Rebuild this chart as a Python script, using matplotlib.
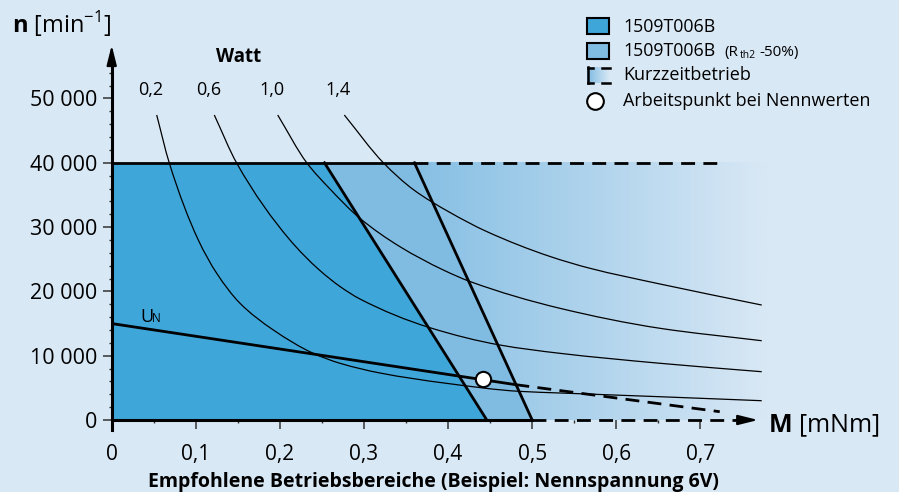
import numpy as np
import matplotlib
matplotlib.use('Agg')
import matplotlib.pyplot as plt
from matplotlib.colors import LinearSegmentedColormap
from matplotlib.patches import Rectangle, PathPatch
from matplotlib.path import Path

plt.rcParams['font.family'] = ['Open Sans', 'DejaVu Sans']
plt.rcParams['mathtext.fontset'] = 'custom'
plt.rcParams['mathtext.rm'] = 'Open Sans'
plt.rcParams['mathtext.bf'] = 'Open Sans:bold'

BG = '#d9e8f5'
DARK = '#3ea6d9'
LIGHT = '#80bbe2'
FADE_START = '#86bfe4'

# operating ranges, torque in mNm, speed in min^-1
dark_m = [0, 0, 0.253, 0.446]
dark_n = [0, 40000, 40000, 0]
light_m = [0.253, 0.36, 0.5, 0.446]
light_n = [40000, 40000, 0, 0]
n_limit = 40000
m_limit_short = 0.724

# nominal voltage characteristic
un_m = [0, 0.48]
un_n = [15000, 5500]
un_dash_m = [0.48, 0.723]
un_dash_n = [5500, 1290]

# working point at nominal values
wp_m = 0.441
wp_n = 6380

# power curves (Watt)
p02_m = [0.0535, 0.0685, 0.103, 0.1249, 0.1526, 0.1922, 0.2397, 0.2715, 0.319, 0.3983, 0.4855, 0.533, 0.652, 0.7729]
p02_n = [47430, 39960, 27990, 22810, 18150, 14000, 10370, 8820, 7310, 5700, 4450, 4200, 3620, 3000]
p06_m = [0.122, 0.1486, 0.212, 0.2469, 0.2715, 0.2952, 0.3785, 0.4617, 0.533, 0.652, 0.7729]
p06_n = [47430, 39960, 27990, 23330, 20760, 18820, 14350, 11660, 10370, 8820, 7510]
p10_m = [0.1974, 0.2319, 0.2596, 0.2952, 0.3428, 0.3943, 0.426, 0.533, 0.652, 0.7729]
p10_n = [47430, 40010, 35920, 31360, 26950, 23330, 21540, 17370, 14260, 12330]
p14_m = [0.2766, 0.323, 0.3586, 0.4023, 0.4459, 0.5212, 0.5688, 0.652, 0.7729]
p14_n = [47430, 40010, 35840, 32270, 29310, 25430, 23590, 21150, 17880]
watt_labels = ['0,2', '0,6', '1,0', '1,4']

y_ticks = [0, 10000, 20000, 30000, 40000, 50000]
y_labels = ['0', '10 000', '20 000', '30 000', '40 000', '50 000']
x_ticks = [0, 0.1, 0.2, 0.3, 0.4, 0.5, 0.6, 0.7]
x_labels = ['0', '0,1', '0,2', '0,3', '0,4', '0,5', '0,6', '0,7']


def smooth_path(xs, ys):
    # smooth, shape preserving curve through the read points (Hermite as Bezier)
    x = np.asarray(xs, float)
    y = np.asarray(ys, float)
    h = np.diff(x)
    d = np.diff(y) / h
    t = np.empty_like(x)
    t[0], t[-1] = d[0], d[-1]
    for i in range(1, len(x) - 1):
        if d[i - 1] * d[i] <= 0:
            t[i] = 0
        else:
            w1 = 2 * h[i] + h[i - 1]
            w2 = h[i] + 2 * h[i - 1]
            t[i] = (w1 + w2) / (w1 / d[i - 1] + w2 / d[i])
    verts = [(x[0], y[0])]
    codes = [Path.MOVETO]
    for i in range(len(x) - 1):
        verts += [(x[i] + h[i] / 3, y[i] + t[i] * h[i] / 3),
                  (x[i + 1] - h[i] / 3, y[i + 1] - t[i + 1] * h[i] / 3),
                  (x[i + 1], y[i + 1])]
        codes += [Path.CURVE4] * 3
    return Path(verts, codes)


W, H = 899, 492
fig = plt.figure(figsize=(W / 100, H / 100), dpi=100)
fig.patch.set_facecolor(BG)

# axes placed so that 0/0 sits at pixel (111.7, 420)
x0, y0 = 111.7, 420
xmax, ymax = 0.78, 58500
px_per_m = 841
px_per_n = 0.00643
ax = fig.add_axes([x0 / W, (H - y0) / H, xmax * px_per_m / W, ymax * px_per_n / H])
ax.set_facecolor(BG)

# fading short-time area
fade = LinearSegmentedColormap.from_list('fade', [FADE_START, BG])
ax.imshow(np.linspace(0, 1, 256).reshape(1, -1), extent=[0.36, xmax, 0, n_limit],
          aspect='auto', cmap=fade, zorder=0, interpolation='bilinear')

ax.fill(light_m, light_n, color=LIGHT, lw=0, zorder=1)
ax.fill(dark_m, dark_n, color=DARK, lw=0, zorder=1)

for m, n in [(p02_m, p02_n), (p06_m, p06_n), (p10_m, p10_n), (p14_m, p14_n)]:
    ax.add_patch(PathPatch(smooth_path(m, n), facecolor='none', edgecolor='black',
                           lw=0.9, zorder=3, clip_on=False))

for lab, m, n in zip(watt_labels, [p02_m, p06_m, p10_m, p14_m], [p02_n, p06_n, p10_n, p14_n]):
    ax.annotate(lab, xy=(m[0], n[0]), xytext=(-4.3, 14.4), textcoords='offset points',
                ha='center', va='baseline', fontsize=13)

# range borders
ax.plot([light_m[0], light_m[3]], [light_n[0], light_n[3]], color='black', lw=2, zorder=4)
ax.plot([light_m[1], light_m[2]], [light_n[1], light_n[2]], color='black', lw=2, zorder=4)
ax.plot([0, light_m[1]], [n_limit, n_limit], color='black', lw=2, zorder=4)
ax.plot([light_m[1], m_limit_short], [n_limit, n_limit], color='black', lw=2,
        dashes=(5, 3), zorder=4)

ax.plot(un_m, un_n, color='black', lw=2, zorder=5)
ax.plot(un_dash_m, un_dash_n, color='black', lw=2, dashes=(5, 3), zorder=5)
ax.plot(wp_m, wp_n, 'o', ms=11, mfc='white', mec='black', mew=1.5, zorder=6)

# axes with arrows
for s in ax.spines.values():
    s.set_visible(False)
ax.plot([0, 0], [-1600, 55500], color='black', lw=2.2, zorder=6, clip_on=False)
ax.annotate('', xy=(0, 58300), xytext=(0, 55000),
            arrowprops=dict(arrowstyle='-|>,head_length=1.2,head_width=0.3',
                            color='black', lw=1.5, shrinkA=0, shrinkB=0),
            annotation_clip=False, zorder=6)
ax.plot([0, 0.5], [0, 0], color='black', lw=2.2, zorder=6, clip_on=False)
ax.plot([0.5, 0.742], [0, 0], color='black', lw=2, dashes=(5, 3), zorder=6, clip_on=False)
ax.annotate('', xy=(0.7686, 0), xytext=(0.742, 0),
            arrowprops=dict(arrowstyle='-|>,head_length=1.2,head_width=0.3',
                            color='black', lw=1.5, shrinkA=0, shrinkB=0),
            annotation_clip=False, zorder=6)

ax.set_xlim(0, xmax)
ax.set_ylim(0, ymax)
ax.set_yticks(y_ticks)
ax.set_yticklabels(y_labels)
ax.set_yticks(np.arange(0, 54001, 2000), minor=True)
ax.set_xticks(x_ticks)
ax.set_xticklabels(x_labels)
ax.set_xticks(np.arange(0.05, 0.66, 0.1), minor=True)
ax.tick_params(axis='y', which='major', direction='out', length=6.5, width=1.1,
               labelsize=15.5, pad=4, color='#333333')
ax.tick_params(axis='y', which='minor', direction='out', length=2.5, width=1, color='#333333')
ax.tick_params(axis='x', which='major', direction='out', length=6.5, width=1.1,
               labelsize=15, pad=11, color='#333333')
ax.tick_params(axis='x', which='minor', direction='out', length=2.5, width=1, color='#333333')

# overlay in pixel coordinates for labels and legend
ov = fig.add_axes([0, 0, 1, 1], zorder=10)
ov.set_facecolor('none')
ov.axis('off')

ov.text(12, 33, r'$\mathbf{n}$ [min$^{\mathrm{-1}}$]', fontsize=17, va='baseline')
ov.text(768, 432, r'$\mathbf{M}$ [mNm]', fontsize=18, va='baseline')
ov.text(238.5, 62, 'Watt', fontsize=13.5, fontweight='bold', ha='center', va='baseline')
ov.text(140, 322, 'U', fontsize=13, va='baseline')
ov.text(152, 322, 'N', fontsize=8.5, va='baseline')
ov.text(433, 487, 'Empfohlene Betriebsbereiche (Beispiel: Nennspannung 6V)',
        fontsize=14, fontweight='bold', ha='center', va='baseline')

# legend
ov.add_patch(Rectangle((587, 18), 22, 16, facecolor=DARK, edgecolor='black', lw=1.5))
ov.add_patch(Rectangle((587, 43), 22, 16, facecolor=LIGHT, edgecolor='black', lw=1.5))
ov.imshow(np.linspace(0, 1, 64).reshape(1, -1), extent=[587, 610, 83, 67],
          aspect='auto', cmap=LinearSegmentedColormap.from_list('lg', ['#7fbbe2', BG]), zorder=1)
ov.plot([588, 588], [67, 83], color='black', lw=1.8)
ov.plot([587.5, 593], [67.5, 67.5], color='black', lw=1.8)
ov.plot([587.5, 593], [82.5, 82.5], color='black', lw=1.8)
ov.plot([601.5, 609.5], [67.5, 67.5], color='black', lw=1.8)
ov.plot([601.5, 609.5], [82.5, 82.5], color='black', lw=1.8)
ov.plot(595, 101, 'o', ms=12, mfc='white', mec='black', mew=1.5)

ov.text(623, 27, '1509T006B', fontsize=12.8, va='center')
ov.text(623, 51, '1509T006B', fontsize=12.8, va='center')
ov.text(724, 56, '(R', fontsize=11, va='baseline')
ov.text(739.5, 57.5, 'th2', fontsize=7.5, va='baseline')
ov.text(759, 56, '-50%)', fontsize=11, va='baseline')
ov.text(623, 75, 'Kurzzeitbetrieb', fontsize=13, va='center')
ov.text(623, 101, 'Arbeitspunkt bei Nennwerten', fontsize=13, va='center')

ov.set_xlim(0, W)
ov.set_ylim(H, 0)

fig.savefig('out.png', dpi=100, facecolor=BG)
